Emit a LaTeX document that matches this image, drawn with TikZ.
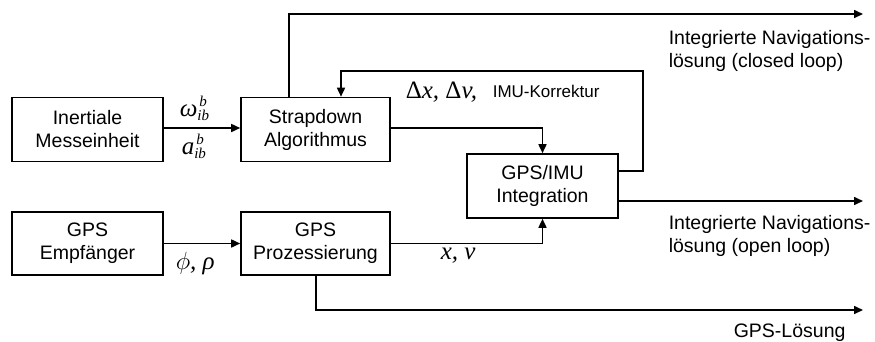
\documentclass[tikz,border=0pt]{standalone}
\usepackage{fontspec}
\setmainfont{Liberation Sans}
\newfontfamily\tms{Liberation Serif}
\usetikzlibrary{arrows.meta}
\newcommand\fsz{\fontsize{19.5}{23}\selectfont}
\newcommand\msz{\fontsize{25}{25}\selectfont\tms\itshape}
\newcommand\ssz{\fontsize{15}{15}\selectfont\tms\itshape}
\newcommand\sym[1]{#1\makebox[0pt][l]{\hspace{2pt}\raisebox{10pt}{\ssz b}}\raisebox{-4pt}{\ssz ib}}
\begin{document}
\begin{tikzpicture}[x=1pt,y=-1pt,line width=1.6pt,
  >={Triangle[length=9pt,width=8pt]},
  box/.style={draw,line width=1.6pt,minimum width=151pt,minimum height=64pt,align=center,inner sep=0pt,font=\fsz},
  lbl/.style={anchor=base west,inner sep=0pt,align=left,font=\fsz},
  mlbl/.style={anchor=base west,inner sep=0pt}]
\useasboundingbox (0,0) rectangle (875,341);
\node[box] (imu) at (87.5,129.5) {Inertiale\\Messeinheit};
\node[box,minimum width=149pt] (sd) at (315.5,129.5) {Strapdown\\Algorithmus};
\node[box] (gi) at (542.5,186) {GPS/IMU\\Integration};
\node[box,minimum height=63pt] (gr) at (87.5,243.5) {GPS\\Empfänger};
\node[box,minimum width=149pt,minimum height=63pt] (gp) at (315.5,243.5) {GPS\\Prozessierung};
\coordinate (e1) at (863,14);
\coordinate (e2) at (863,201);
\coordinate (e3) at (863,310);
% connectors
\draw[->] (imu.east |- 0,128) -- (sd.west |- 0,128);
\draw[->] (gr) -- (gp);
\draw[->] (sd.north -| 289,0) |- (e1);
\draw[->] (gi.east |- 0,171) -| (643,71) -| (sd.north -| 341,0);
\draw[->] (sd.east |- 0,128) -| (gi.north);
\draw[->] (gp.east) -| (gi.south);
\draw[->] (gi.east |- e2) -- (e2);
\draw[->] (gp.south -| 316,0) |- (e3);
% labels
\node[mlbl] (w) at (179,116) {\msz\sym{ω}};
\node[mlbl] (a) at (181,154) {\msz\sym{a}};
\node[mlbl] (dx) at (405,98) {\msz{\upshape Δ}x, {\upshape Δ}v,};
\node[lbl,font=\fontsize{17}{17}\selectfont] (kor) at (492,97) {IMU-Korrektur};
\node[mlbl] (pr) at (175,269) {\fontsize{25}{25}\selectfont$\phi$\msz, ρ};
\node[mlbl] (xv) at (440,259) {\msz x, v};
\node[lbl] (t1) at (668,67) {Integrierte Navigations-\\lösung (closed loop)};
\node[lbl] (t2) at (668,252) {Integrierte Navigations-\\lösung (open loop)};
\node[lbl] (t3) at (733,337) {GPS-Lösung};
\end{tikzpicture}
\end{document}
